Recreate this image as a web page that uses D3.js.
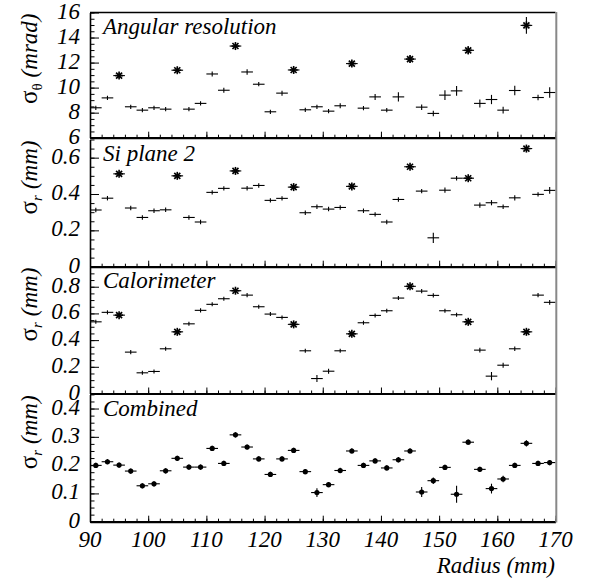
<!DOCTYPE html>
<html><head><meta charset="utf-8">
<script src="https://cdn.jsdelivr.net/npm/d3@7"></script>
</head><body style="margin:0">
<svg id="c" width="589" height="581"></svg>
<script>
// ---------- data ----------
const radius = [91,93,95,97,99,101,103,105,107,109,111,113,115,117,119,121,123,125,127,129,
                131,133,135,137,139,141,143,145,147,149,151,153,155,157,159,161,163,165,167,169];
const starRadii = [95,105,115,125,135,145,155,165];

const angularRes = [8.39,9.18,10.96,8.47,8.2,8.39,8.28,11.39,8.28,8.74,11.09,9.79,13.32,11.25,10.27,8.07,9.56,11.41,8.23,8.47,
                    8.12,8.55,11.92,8.36,9.26,8.2,9.26,12.28,8.44,7.94,9.40,9.74,12.98,8.74,9.05,8.2,9.77,14.97,9.21,9.61];
const angularErr = [0.05,0.05,0.1,0.05,0.05,0.05,0.05,0.1,0.05,0.05,0.08,0.08,0.15,0.1,0.05,0.05,0.08,0.12,0.05,0.05,
                    0.05,0.08,0.12,0.05,0.12,0.05,0.25,0.15,0.1,0.1,0.27,0.27,0.2,0.2,0.25,0.15,0.25,0.55,0.1,0.3];

const siPlane2 = [0.312,0.377,0.511,0.323,0.271,0.308,0.313,0.5,0.271,0.246,0.409,0.431,0.527,0.432,0.447,0.365,0.376,0.438,0.297,0.33,
                  0.317,0.326,0.442,0.308,0.288,0.246,0.37,0.55,0.416,0.159,0.421,0.487,0.487,0.339,0.352,0.33,0.379,0.65,0.398,0.42];
const siPlane2Err = [0.004,0.004,0.004,0.004,0.004,0.004,0.004,0.004,0.004,0.004,0.004,0.004,0.004,0.004,0.004,0.004,0.004,0.004,0.004,0.004,
                     0.004,0.004,0.004,0.004,0.004,0.004,0.004,0.004,0.004,0.02,0.006,0.004,0.004,0.006,0.006,0.004,0.006,0.006,0.004,0.01];

const calorimeter = [0.537,0.608,0.587,0.31,0.155,0.165,0.335,0.462,0.522,0.623,0.668,0.71,0.77,0.737,0.65,0.595,0.57,0.518,0.32,0.112,
                     0.167,0.32,0.447,0.53,0.585,0.62,0.715,0.803,0.767,0.735,0.62,0.59,0.537,0.325,0.13,0.212,0.335,0.462,0.737,0.683];
const calorimeterErr = [0.004,0.004,0.004,0.004,0.004,0.004,0.004,0.004,0.004,0.004,0.004,0.004,0.004,0.004,0.004,0.004,0.004,0.004,0.004,0.015,
                        0.008,0.004,0.004,0.004,0.004,0.004,0.004,0.004,0.004,0.004,0.004,0.004,0.004,0.006,0.02,0.008,0.006,0.006,0.004,0.006];

const combined = [0.199,0.212,0.2,0.179,0.127,0.134,0.18,0.224,0.193,0.193,0.259,0.206,0.307,0.264,0.222,0.167,0.222,0.252,0.177,0.103,
                  0.131,0.181,0.25,0.199,0.215,0.19,0.219,0.25,0.105,0.145,0.192,0.097,0.281,0.185,0.117,0.151,0.199,0.277,0.206,0.209];
const combinedErr = [0.004,0.004,0.004,0.004,0.004,0.004,0.004,0.004,0.004,0.004,0.004,0.004,0.004,0.004,0.004,0.004,0.004,0.004,0.004,0.01,
                     0.004,0.004,0.004,0.004,0.004,0.004,0.004,0.004,0.012,0.006,0.004,0.025,0.004,0.004,0.012,0.006,0.004,0.006,0.004,0.004];

const xTicks = [90,100,110,120,130,140,150,160,170];
const yTicksAngular = [6,8,10,12,14,16];
const yTicksSi = [0,0.2,0.4,0.6];
const yTicksCal = [0,0.2,0.4,0.6,0.8];
const yTicksComb = [0,0.1,0.2,0.3,0.4];
const panelTitles = ["Angular resolution","Si plane 2","Calorimeter","Combined"];
const xTitle = "Radius (mm)";

// ---------- layout ----------
const svg = d3.select("#c");
const X0 = 90, X1 = 555.5;
const x = d3.scaleLinear().domain([90,170]).range([X0,X1]);
const FS = 23;

const panels = [
  {title:panelTitles[0], vals:angularRes, errs:angularErr, ticks:yTicksAngular, domain:[6,16], range:[137.7,12.5], minor:0.5, sub:"θ", subItalic:false, unit:"(mrad)", marker:"star"},
  {title:panelTitles[1], vals:siPlane2, errs:siPlane2Err, ticks:yTicksSi, domain:[0,0.7], range:[266.7,139.5], minor:0.05, sub:"r", subItalic:true, unit:"(mm)", marker:"star"},
  {title:panelTitles[2], vals:calorimeter, errs:calorimeterErr, ticks:yTicksCal, domain:[0,0.95], range:[393.5,266.7], minor:0.05, sub:"r", subItalic:true, unit:"(mm)", marker:"star"},
  {title:panelTitles[3], vals:combined, errs:combinedErr, ticks:yTicksComb, domain:[0,0.45], range:[521.7,394.4], minor:0.025, sub:"r", subItalic:true, unit:"(mm)", marker:"circle"}
];

function label(parent, txt, italic) {
  const t = parent.append("text").attr("font-size", FS).attr("font-style", italic ? "italic" : "normal")
    .style("font-family", "Liberation Serif").attr("fill", "#000");
  if (txt !== null) t.text(txt);
  return t;
}

panels.forEach((p, pi) => {
  const y = d3.scaleLinear().domain(p.domain).range(p.range);
  const g = svg.append("g");
  const top = p.range[1], bot = p.range[0];

  // minor y ticks
  const minorVals = d3.range(p.domain[0], p.domain[1] + 1e-9, p.minor).map(v => +v.toFixed(4));
  g.append("g").attr("transform", `translate(${X0},0)`)
    .call(d3.axisLeft(y).tickValues(minorVals).tickSize(-4.5).tickSizeOuter(0).tickFormat(""))
    .call(s => s.select(".domain").remove())
    .call(s => s.selectAll("text").remove())
    .selectAll("line").attr("stroke", "#000").attr("stroke-width", 1);

  // major y ticks
  const ya = g.append("g").attr("transform", `translate(${X0},0)`)
    .call(d3.axisLeft(y).tickValues(p.ticks).tickSize(-9).tickSizeOuter(0).tickFormat(""));
  ya.selectAll("text").remove();
  ya.select(".domain").attr("stroke", "#000").attr("stroke-width", 1.6);
  ya.selectAll("line").attr("stroke", "#000").attr("stroke-width", 1);

  // y tick labels
  p.ticks.forEach(v => {
    label(svg, String(v), true).attr("x", 80).attr("y", y(v) + 6).attr("text-anchor", "end");
  });

  // x ticks
  const minorX = d3.range(90, 170.001, 2);
  g.append("g").attr("transform", `translate(0,${bot})`)
    .call(d3.axisBottom(x).tickValues(minorX).tickSize(-3).tickSizeOuter(0).tickFormat(""))
    .call(s => s.select(".domain").remove())
    .call(s => s.selectAll("text").remove())
    .selectAll("line").attr("stroke", "#000").attr("stroke-width", 1);
  const xa = g.append("g").attr("transform", `translate(0,${bot})`)
    .call(d3.axisBottom(x).tickValues(xTicks).tickSize(-6).tickSizeOuter(0).tickFormat(""));
  xa.selectAll("text").remove();
  xa.select(".domain").attr("stroke", "#000").attr("stroke-width", 2.2);
  xa.selectAll("line").attr("stroke", "#000").attr("stroke-width", 1);
  if (pi === 3) {
    xTicks.forEach(v => {
      label(svg, String(v), true).attr("x", x(v)).attr("y", bot + 25).attr("text-anchor", "middle");
    });
  }

  // panel title
  label(svg, p.title, true).attr("x", 103).attr("y", top + 21.5);

  // y axis title
  const t = label(svg, null, true)
    .attr("transform", `translate(37,${top + 1}) rotate(-90)`)
    .attr("text-anchor", "end");
  t.append("tspan").attr("font-style", "normal").attr("font-size", 25).text("σ");
  t.append("tspan").attr("dy", 5).attr("font-size", 15)
    .attr("font-style", p.subItalic ? "italic" : "normal").text(p.sub);
  t.append("tspan").attr("dy", -5).attr("dx", 6).attr("font-style", "italic").text(p.unit);

  // data: error bars
  const pts = radius.map((r, i) => ({r, v: p.vals[i], e: p.errs[i]}));
  const dg = g.append("g").attr("stroke", "#000").attr("stroke-width", 1.1);
  dg.selectAll("line.h").data(pts).join("line").attr("class", "h")
    .attr("x1", d => x(d.r - 1)).attr("x2", d => x(d.r + 1))
    .attr("y1", d => y(d.v)).attr("y2", d => y(d.v));
  dg.selectAll("line.v").data(pts).join("line").attr("class", "v")
    .attr("x1", d => x(d.r)).attr("x2", d => x(d.r))
    .attr("y1", d => y(d.v - d.e) + 1.5).attr("y2", d => y(d.v + d.e) - 1.5);

  if (p.marker === "star") {
    const sp = pts.filter(d => starRadii.includes(d.r));
    const sg = g.append("g").attr("stroke", "#000").attr("stroke-width", 1.6);
    sp.forEach(d => {
      const cx = x(d.r), cy = y(d.v), s = 4, q = 3;
      sg.append("line").attr("x1", cx - s).attr("x2", cx + s).attr("y1", cy).attr("y2", cy);
      sg.append("line").attr("x1", cx).attr("x2", cx).attr("y1", cy - s).attr("y2", cy + s);
      sg.append("line").attr("x1", cx - q).attr("x2", cx + q).attr("y1", cy - q).attr("y2", cy + q);
      sg.append("line").attr("x1", cx - q).attr("x2", cx + q).attr("y1", cy + q).attr("y2", cy - q);
    });
  } else {
    g.append("g").selectAll("circle").data(pts).join("circle")
      .attr("cx", d => x(d.r)).attr("cy", d => y(d.v)).attr("r", 2.6).attr("fill", "#000");
  }
});

// top frame and right border
svg.append("line").attr("x1", X0).attr("x2", X1).attr("y1", 12.5).attr("y2", 12.5)
  .attr("stroke", "#000").attr("stroke-width", 1.6);
svg.append("line").attr("x1", X1 + 0.8).attr("x2", X1 + 0.8).attr("y1", 12).attr("y2", 522.5)
  .attr("stroke", "#888").attr("stroke-width", 2);

// x title
label(svg, xTitle, true).attr("x", 555).attr("y", 573).attr("text-anchor", "end");
</script>
</body></html>
